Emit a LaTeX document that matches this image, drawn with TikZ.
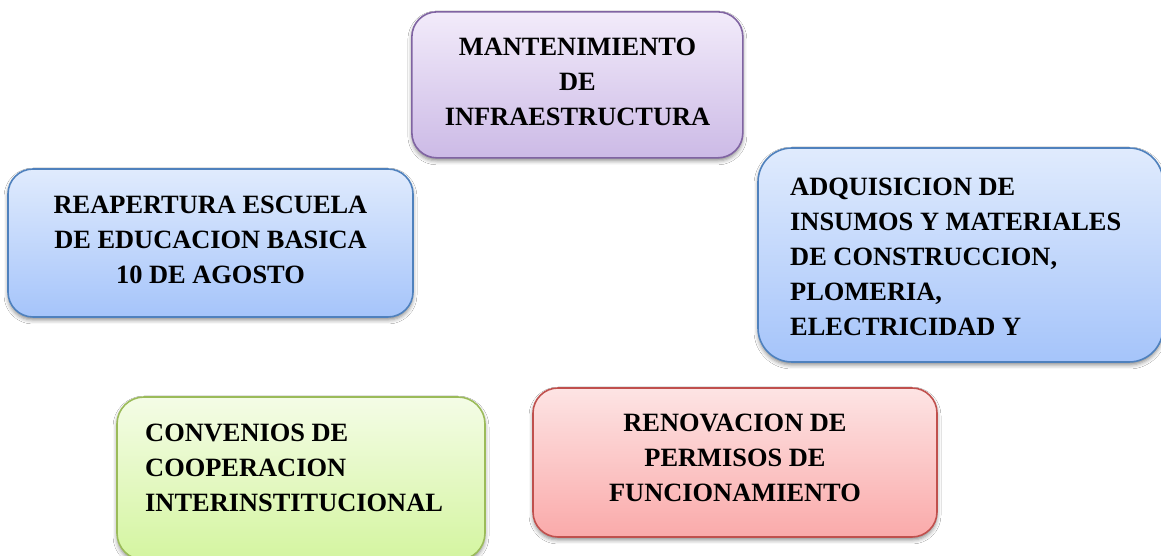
\documentclass[tikz,border=0pt]{standalone}
\usepackage{fontspec}
\setmainfont{Liberation Serif}
\usetikzlibrary{shadows.blur}
\definecolor{purTop}{RGB}{242,235,250}
\definecolor{purBot}{RGB}{204,186,230}
\definecolor{purLine}{RGB}{128,100,162}
\definecolor{bluTop}{RGB}{224,235,253}
\definecolor{bluBot}{RGB}{165,196,250}
\definecolor{bluLine}{RGB}{79,129,189}
\definecolor{grnTop}{RGB}{244,252,230}
\definecolor{grnBot}{RGB}{212,245,160}
\definecolor{grnLine}{RGB}{155,187,89}
\definecolor{redTop}{RGB}{253,228,228}
\definecolor{redBot}{RGB}{250,170,170}
\definecolor{redLine}{RGB}{192,80,77}
\tikzset{
  card/.style={rectangle, line width=1.6pt, inner sep=0pt,
    blur shadow={shadow xshift=0pt, shadow yshift=-3pt, shadow blur radius=4pt, shadow opacity=45}},
  purcard/.style={card, draw=purLine, top color=purTop, bottom color=purBot},
  blucard/.style={card, draw=bluLine, top color=bluTop, bottom color=bluBot},
  grncard/.style={card, draw=grnLine, top color=grnTop, bottom color=grnBot},
  redcard/.style={card, draw=redLine, top color=redTop, bottom color=redBot},
  label/.style={inner sep=0pt, font=\fontsize{26.4}{35}\selectfont\bfseries, text=black}
}
\begin{document}
\begin{tikzpicture}[x=1pt,y=1pt]
\useasboundingbox (0,0) rectangle (1161,556);
\fill[white] (0,0) rectangle (1161,556);
\begin{scope}
\clip (0,0) rectangle (1161,556);
\node[purcard, rounded corners=25pt, minimum width=331pt, minimum height=146pt] (mant) at (577.35,471.15) {};
\node[blucard, rounded corners=25pt, minimum width=405pt, minimum height=148pt] (reap) at (210.5,313) {};
\node[blucard, rounded corners=34pt, minimum width=405pt, minimum height=214pt] (adq) at (960.5,301) {};
\node[grncard, rounded corners=27pt, minimum width=368pt, minimum height=163pt] (conv) at (301,77.5) {};
\node[redcard, rounded corners=25pt, minimum width=404pt, minimum height=149pt] (renov) at (735,93.5) {};
\end{scope}
\node[label, align=center] (tmant) at (577.5,474.5) {MANTENIMIENTO\\DE\\INFRAESTRUCTURA};
\node[label, align=center] (treap) at (210.5,316.5) {REAPERTURA ESCUELA\\DE EDUCACION BASICA\\10 DE AGOSTO};
\node[label, align=left, anchor=west] (tadq) at (790,299.3) {ADQUISICION DE\\INSUMOS Y MATERIALES\\DE CONSTRUCCION,\\PLOMERIA,\\ELECTRICIDAD Y};
\node[label, align=left, anchor=west] (tconv) at (145,87.7) {CONVENIOS DE\\COOPERACION\\INTERINSTITUCIONAL};
\node[label, align=center] (trenov) at (735,98.5) {RENOVACION DE\\PERMISOS DE\\FUNCIONAMIENTO};
\end{tikzpicture}
\end{document}
